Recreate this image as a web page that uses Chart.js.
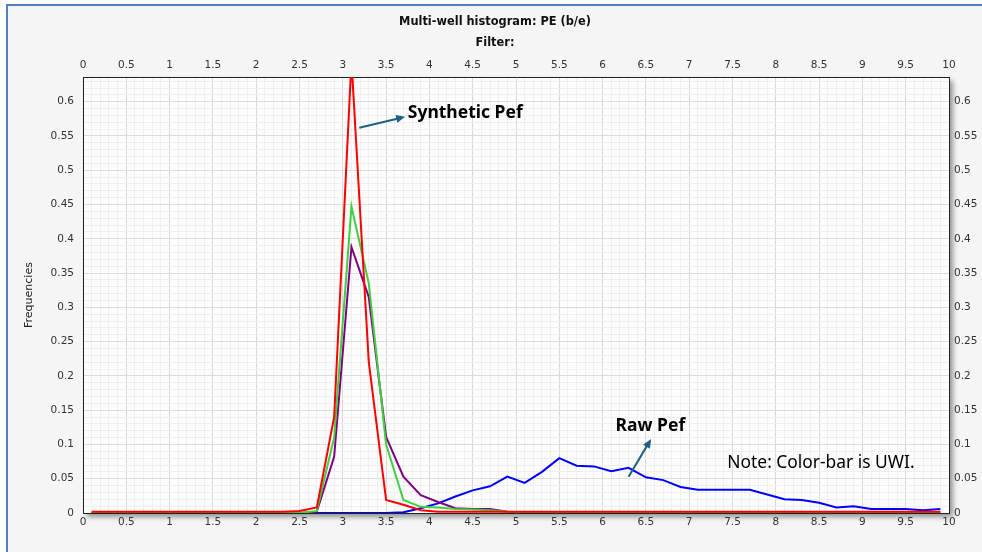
<!DOCTYPE html>
<html>
<head>
<meta charset="utf-8">
<title>Multi-well histogram: PE (b/e)</title>
<script src="https://cdn.jsdelivr.net/npm/chart.js@4.4.1/dist/chart.umd.min.js"></script>
<style>
  html, body { margin: 0; padding: 0; background: #ffffff; overflow: hidden; }
  #wrap { position: absolute; left: 0; top: 0; width: 982px; height: 552px; }
  #histo { display: block; }
</style>
</head>
<body>
<div id="wrap"><canvas id="histo" width="982" height="552"></canvas></div>
<script>
// bin centres (PE, b/e)
var binCenters = [0.1, 0.3, 0.5, 0.7, 0.9, 1.1, 1.3, 1.5, 1.7, 1.9,
                  2.1, 2.3, 2.5, 2.7, 2.9, 3.1, 3.3, 3.5, 3.7, 3.9,
                  4.1, 4.3, 4.5, 4.7, 4.9, 5.1, 5.3, 5.5, 5.7, 5.9,
                  6.1, 6.3, 6.5, 6.7, 6.9, 7.1, 7.3, 7.5, 7.7, 7.9,
                  8.1, 8.3, 8.5, 8.7, 8.9, 9.1, 9.3, 9.5, 9.7, 9.9];

// frequencies per well
var wellRed = [0.002, 0.002, 0.002, 0.002, 0.002, 0.002, 0.002, 0.002, 0.002, 0.002,
               0.002, 0.002, 0.003, 0.008, 0.14, 0.66, 0.22, 0.019, 0.012, 0.004,
               0.002, 0.002, 0.002, 0.002, 0.002, 0.002, 0.002, 0.002, 0.002, 0.002,
               0.002, 0.002, 0.002, 0.002, 0.002, 0.002, 0.002, 0.002, 0.002, 0.002,
               0.002, 0.002, 0.002, 0.002, 0.002, 0.002, 0.002, 0.002, 0.002, 0.002];
var wellGreen = [0, 0, 0, 0, 0, 0, 0, 0, 0, 0,
                 0, 0, 0, 0.003, 0.11, 0.447, 0.335, 0.10, 0.019, 0.009,
                 0.008, 0.006, 0.005, 0.004, 0.002, 0.001, 0.001, 0.001, 0.001, 0.001,
                 0.001, 0.001, 0.001, 0.001, 0.001, 0.001, 0.001, 0.001, 0.001, 0.001,
                 0.001, 0.001, 0.001, 0.001, 0.001, 0.001, 0.001, 0.001, 0.001, 0.001];
var wellPurple = [0, 0, 0, 0, 0, 0, 0, 0, 0, 0,
                  0, 0, 0, 0.002, 0.082, 0.388, 0.315, 0.111, 0.053, 0.026,
                  0.016, 0.007, 0.006, 0.006, 0.002, 0, 0, 0, 0, 0,
                  0, 0, 0, 0, 0, 0, 0, 0, 0, 0,
                  0, 0, 0, 0, 0, 0, 0, 0, 0, 0];
var wellBlue = [0, 0, 0, 0, 0, 0, 0, 0, 0, 0,
                0, 0, 0, 0, 0, 0, 0, 0, 0.001, 0.007,
                0.014, 0.024, 0.033, 0.039, 0.053, 0.044, 0.060, 0.080, 0.069, 0.068,
                0.061, 0.066, 0.052, 0.048, 0.038, 0.034, 0.034, 0.034, 0.034, 0.027,
                0.020, 0.019, 0.015, 0.008, 0.010, 0.006, 0.006, 0.006, 0.004, 0.006];

var xMin = 0, xMax = 10, xMajor = 0.5, xMinor = 0.1;
var yMin = 0, yMax = 0.636, yMajor = 0.05, yMinor = 0.01;

var tickFont = { family: 'DejaVu Sans', size: 10.5 };
var tickColor = '#333333';

function onStep(v, step) {
    var q = v / step;
    return Math.abs(q - Math.round(q)) < 1e-6;
}

function xLabel(v) {
    return onStep(v, xMajor) ? String(Math.round(v * 10) / 10) : '';
}

function yLabel(v) {
    return onStep(v, yMajor) ? String(parseFloat(v.toFixed(2))) : '';
}

function toPoints(values) {
    return binCenters.map(function (x, i) { return { x: x, y: values[i] }; });
}

function lineSet(name, values, color) {
    return {
        label: name,
        data: toPoints(values),
        borderColor: color,
        backgroundColor: color,
        borderWidth: 2,
        pointRadius: 0,
        tension: 0,
        fill: false
    };
}

// fixed axis sizes so the plot box sits where the original does
function fixWidth(w) { return function (scale) { scale.width = w; }; }
function fixHeight(h) { return function (scale) { scale.height = h; }; }

// frame, panel background and the plot box with its drop shadow
var backdrop = {
    id: 'backdrop',
    beforeDraw: function (chart) {
        var ctx = chart.ctx, a = chart.chartArea;
        ctx.save();
        ctx.fillStyle = '#ffffff';
        ctx.fillRect(0, 0, chart.width, chart.height);
        ctx.fillStyle = '#f5f5f5';
        ctx.fillRect(7, 6, chart.width - 7, chart.height - 6);
        ctx.fillStyle = '#4f81c4';
        ctx.fillRect(6, 4, chart.width - 6, 2);
        ctx.fillRect(6, 4, 2, chart.height - 4);
        ctx.shadowColor = 'rgba(0,0,0,0.4)';
        ctx.shadowBlur = 5;
        ctx.shadowOffsetX = 4;
        ctx.shadowOffsetY = 4;
        ctx.fillStyle = '#fdfdfd';
        ctx.fillRect(a.left, a.top, a.right - a.left, a.bottom - a.top);
        ctx.restore();
    }
};

// callouts, anchored in data units
var callouts = {
    id: 'callouts',
    afterDraw: function (chart) {
        var ctx = chart.ctx, xs = chart.scales.x, ys = chart.scales.y;
        function px(x) { return xs.getPixelForValue(x); }
        function py(y) { return ys.getPixelForValue(y); }

        function arrow(x0, y0, x1, y1) {
            var ax = px(x0), ay = py(y0), bx = px(x1), by = py(y1);
            var ang = Math.atan2(by - ay, bx - ax);
            ctx.strokeStyle = '#1f6185';
            ctx.fillStyle = '#1f6185';
            ctx.lineWidth = 2;
            ctx.beginPath();
            ctx.moveTo(ax, ay);
            ctx.lineTo(bx - 6 * Math.cos(ang), by - 6 * Math.sin(ang));
            ctx.stroke();
            ctx.beginPath();
            ctx.moveTo(bx, by);
            ctx.lineTo(bx - 9 * Math.cos(ang) + 4 * Math.sin(ang), by - 9 * Math.sin(ang) - 4 * Math.cos(ang));
            ctx.lineTo(bx - 9 * Math.cos(ang) - 4 * Math.sin(ang), by - 9 * Math.sin(ang) + 4 * Math.cos(ang));
            ctx.closePath();
            ctx.fill();
        }

        ctx.save();
        arrow(3.19, 0.562, 3.72, 0.578);
        arrow(6.30, 0.053, 6.56, 0.108);

        ctx.fillStyle = '#000000';
        ctx.textAlign = 'left';
        ctx.textBaseline = 'middle';
        ctx.font = 'bold 17.5px "Noto Sans"';
        ctx.fillText('Synthetic Pef', px(3.75), py(0.584));
        ctx.fillText('Raw Pef', px(6.15), py(0.127));
        ctx.font = '17.4px "Noto Sans"';
        ctx.fillText('Note: Color-bar is UWI.', px(7.44), py(0.073));
        ctx.restore();
    }
};

var chart = new Chart(document.getElementById('histo'), {
    type: 'line',
    data: {
        datasets: [
            lineSet('Well 1', wellRed, '#ff0000'),
            lineSet('Well 2', wellGreen, '#3fcf3f'),
            lineSet('Well 3', wellPurple, '#800080'),
            lineSet('Well 4', wellBlue, '#0000ff')
        ]
    },
    options: {
        responsive: false,
        animation: false,
        devicePixelRatio: 1,
        layout: { padding: { left: 8, right: 0, top: 0, bottom: 14 } },
        plugins: {
            legend: { display: false },
            tooltip: { enabled: false },
            title: {
                display: true,
                text: 'Multi-well histogram: PE (b/e)',
                color: '#111111',
                font: { family: 'DejaVu Sans', size: 11.4, weight: 'bold', lineHeight: 1.16 },
                padding: { top: 15, bottom: 8 }
            },
            subtitle: {
                display: true,
                text: 'Filter:',
                color: '#111111',
                font: { family: 'DejaVu Sans', size: 11.4, weight: 'bold', lineHeight: 1.16 },
                padding: { top: 0, bottom: 0 }
            }
        },
        scales: {
            x: {
                type: 'linear',
                position: 'bottom',
                min: xMin,
                max: xMax,
                afterFit: fixHeight(25),
                ticks: {
                    stepSize: xMinor,
                    autoSkip: false,
                    maxRotation: 0,
                    padding: 3,
                    font: tickFont,
                    color: tickColor,
                    callback: xLabel
                },
                grid: {
                    drawTicks: false,
                    color: function (c) { return c.tick && onStep(c.tick.value, xMajor) ? '#d9d9d9' : '#efefef'; }
                },
                border: { color: '#222222', width: 1 }
            },
            xTop: {
                type: 'linear',
                position: 'top',
                min: xMin,
                max: xMax,
                afterFit: fixHeight(27.6),
                ticks: {
                    stepSize: xMajor,
                    autoSkip: false,
                    maxRotation: 0,
                    padding: 5,
                    font: tickFont,
                    color: tickColor,
                    callback: xLabel
                },
                grid: { display: false, drawTicks: false },
                border: { color: '#222222', width: 1 }
            },
            y: {
                type: 'linear',
                position: 'left',
                min: yMin,
                max: yMax,
                afterFit: fixWidth(75),
                title: {
                    display: true,
                    text: 'Frequencies',
                    color: '#222222',
                    font: { family: 'DejaVu Sans', size: 11 },
                    padding: { top: 15, bottom: 0 }
                },
                ticks: {
                    stepSize: yMinor,
                    includeBounds: false,
                    autoSkip: false,
                    padding: 9,
                    font: tickFont,
                    color: tickColor,
                    callback: yLabel
                },
                grid: {
                    drawTicks: false,
                    color: function (c) { return c.tick && onStep(c.tick.value, yMajor) ? '#dcdcdc' : '#efefef'; }
                },
                border: { color: '#222222', width: 1 }
            },
            yRight: {
                type: 'linear',
                position: 'right',
                min: yMin,
                max: yMax,
                afterFit: fixWidth(33),
                ticks: {
                    stepSize: yMajor,
                    includeBounds: false,
                    autoSkip: false,
                    padding: 5,
                    font: tickFont,
                    color: tickColor,
                    callback: yLabel
                },
                grid: { display: false, drawTicks: false },
                border: { color: '#222222', width: 1 }
            }
        }
    },
    plugins: [backdrop, callouts]
});
</script>
</body>
</html>
